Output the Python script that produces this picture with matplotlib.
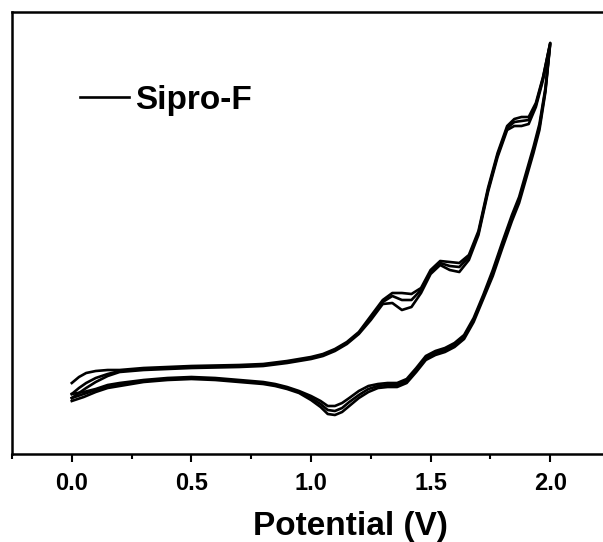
import matplotlib
matplotlib.use('Agg')
import matplotlib.pyplot as plt
from matplotlib.ticker import MultipleLocator

plt.rcParams['font.family'] = ['Liberation Sans', 'DejaVu Sans']
plt.rcParams['font.weight'] = 'bold'

# potential (V) for the anodic (forward) and cathodic (reverse) sweeps
fwd_v = [0.00, 0.03, 0.06, 0.10, 0.15, 0.20, 0.30, 0.40, 0.50, 0.60, 0.70, 0.80, 0.90,
         1.00, 1.05, 1.10, 1.15, 1.20, 1.25, 1.30, 1.34, 1.38, 1.42, 1.46, 1.50, 1.54,
         1.58, 1.62, 1.66, 1.70, 1.74, 1.78, 1.82, 1.85, 1.88, 1.91, 1.94, 1.97, 2.00]
rev_v = [2.00, 1.98, 1.955, 1.93, 1.90, 1.87, 1.84, 1.80, 1.76, 1.72, 1.68, 1.64, 1.60,
         1.56, 1.52, 1.48, 1.44, 1.40, 1.36, 1.32, 1.28, 1.24, 1.20, 1.16, 1.13, 1.10,
         1.07, 1.04, 1.00, 0.95, 0.90, 0.85, 0.80, 0.70, 0.60, 0.50, 0.40, 0.30, 0.20,
         0.15, 0.10, 0.05, 0.00]

# current (a.u.), three cycles
fwd_1 = [0.71, 0.77, 0.81, 0.83, 0.84, 0.84, 0.86, 0.87, 0.88, 0.885, 0.89, 0.90, 0.93,
         0.97, 1.00, 1.05, 1.12, 1.22, 1.38, 1.54, 1.61, 1.61, 1.60, 1.66, 1.84, 1.93,
         1.92, 1.91, 1.99, 2.23, 2.66, 3.01, 3.28, 3.35, 3.37, 3.37, 3.51, 3.77, 4.11]
rev_1 = [4.11, 3.66, 3.30, 3.07, 2.82, 2.57, 2.39, 2.12, 1.84, 1.59, 1.36, 1.19, 1.11,
         1.06, 1.03, 0.98, 0.86, 0.75, 0.71, 0.71, 0.70, 0.68, 0.63, 0.56, 0.51, 0.48,
         0.48, 0.53, 0.58, 0.63, 0.67, 0.70, 0.72, 0.74, 0.76, 0.77, 0.76, 0.74, 0.71,
         0.69, 0.65, 0.62, 0.60]

fwd_2 = [0.60, 0.66, 0.71, 0.76, 0.80, 0.83, 0.85, 0.86, 0.87, 0.875, 0.88, 0.89, 0.92,
         0.96, 0.99, 1.04, 1.11, 1.21, 1.36, 1.52, 1.58, 1.54, 1.54, 1.64, 1.82, 1.91,
         1.88, 1.87, 1.97, 2.21, 2.64, 2.99, 3.26, 3.32, 3.33, 3.34, 3.49, 3.76, 4.11]
rev_2 = [4.11, 3.64, 3.27, 3.04, 2.79, 2.54, 2.36, 2.09, 1.81, 1.57, 1.34, 1.17, 1.09,
         1.04, 1.01, 0.96, 0.84, 0.73, 0.69, 0.69, 0.68, 0.65, 0.59, 0.52, 0.46, 0.43,
         0.44, 0.50, 0.56, 0.62, 0.66, 0.69, 0.71, 0.73, 0.75, 0.76, 0.75, 0.73, 0.70,
         0.68, 0.64, 0.60, 0.56]

fwd_3 = [0.56, 0.61, 0.66, 0.72, 0.78, 0.82, 0.84, 0.85, 0.86, 0.865, 0.87, 0.88, 0.91,
         0.95, 0.98, 1.03, 1.10, 1.20, 1.34, 1.50, 1.51, 1.44, 1.47, 1.61, 1.80, 1.89,
         1.84, 1.82, 1.94, 2.19, 2.62, 2.97, 3.24, 3.28, 3.28, 3.30, 3.47, 3.74, 4.10]
rev_3 = [4.10, 3.62, 3.24, 3.01, 2.76, 2.51, 2.33, 2.06, 1.78, 1.55, 1.32, 1.15, 1.07,
         1.02, 0.99, 0.94, 0.82, 0.71, 0.67, 0.67, 0.66, 0.62, 0.56, 0.48, 0.42, 0.39,
         0.40, 0.47, 0.54, 0.61, 0.65, 0.68, 0.70, 0.72, 0.74, 0.75, 0.74, 0.72, 0.68,
         0.66, 0.62, 0.57, 0.53]

cycles = [(fwd_1, rev_1), (fwd_2, rev_2), (fwd_3, rev_3)]

fig = plt.figure(figsize=(6.03, 5.42), dpi=100)
ax = fig.add_axes([12/603, 88/542, 598/603, 442/542])

for i, (f, r) in enumerate(cycles):
    ax.plot(fwd_v + rev_v, f + r, color='black', lw=1.9, solid_joinstyle='round',
            label='Sipro-F' if i == 0 else None)

ax.set_xlim(-0.25, 2.25)
ax.set_ylim(0, 4.42)
ax.xaxis.set_minor_locator(MultipleLocator(0.25))
ax.set_xticks([0, 0.5, 1.0, 1.5, 2.0])
ax.set_xticklabels(['0.0', '0.5', '1.0', '1.5', '2.0'], fontsize=17, fontweight='bold')
ax.set_yticks([])
ax.tick_params(axis='x', which='major', direction='out', length=6, width=1.5, pad=7)
ax.tick_params(axis='x', which='minor', direction='out', length=3.5, width=1.5)
for s in ax.spines.values():
    s.set_linewidth(1.8)

ax.set_xlabel('Potential (V)', fontsize=24, fontweight='bold')
ax.xaxis.set_label_coords(338/598, -0.128)

ax.legend(loc='center left', bbox_to_anchor=(0.114, 0.80), frameon=False,
          prop={'size': 24, 'weight': 'bold'}, handlelength=1.45,
          handletextpad=0.2, borderpad=0, borderaxespad=0)

plt.savefig('out.png', dpi=100)
